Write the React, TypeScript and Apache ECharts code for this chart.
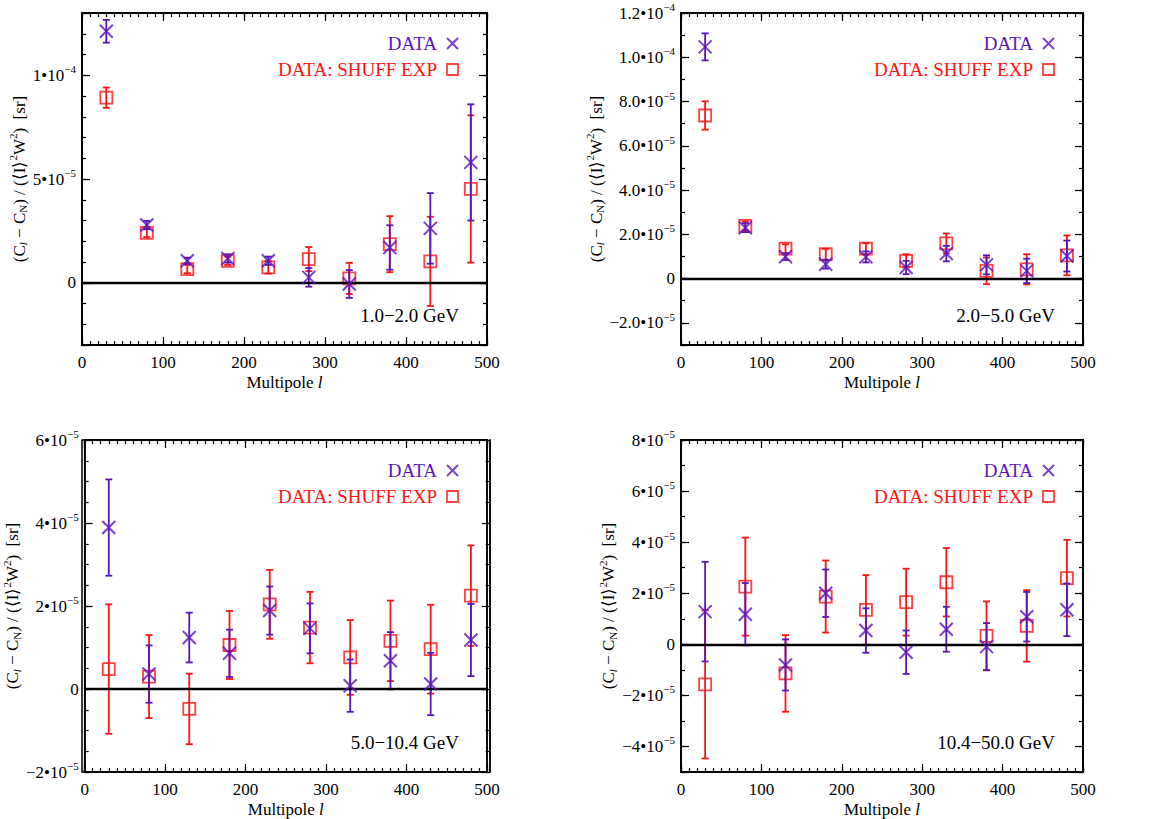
import React, { useEffect, useRef } from "react";
import * as echarts from "echarts";

// Multipole bin centres
const ELL = [30, 80, 130, 180, 230, 280, 330, 380, 430, 480];

// All y values below are in units of 1e-5 sr
// Panel 1: 1.0-2.0 GeV
const p1Data = [12.12, 2.78, 1.06, 1.17, 1.06, 0.26, -0.06, 1.7, 2.62, 5.8];
const p1DataErr = [0.55, 0.2, 0.15, 0.2, 0.2, 0.45, 0.67, 1.07, 1.7, 2.8];
const p1Shuff = [8.92, 2.4, 0.66, 1.06, 0.74, 1.14, 0.21, 1.86, 1.03, 4.52];
const p1ShuffErr = [0.49, 0.2, 0.2, 0.2, 0.3, 0.58, 0.75, 1.35, 2.15, 3.55];

// Panel 2: 2.0-5.0 GeV
const p2Data = [10.47, 2.3, 0.99, 0.65, 0.98, 0.5, 1.13, 0.62, 0.35, 1.02];
const p2DataErr = [0.61, 0.2, 0.15, 0.2, 0.25, 0.3, 0.35, 0.43, 0.55, 0.7];
const p2Shuff = [7.37, 2.38, 1.35, 1.1, 1.35, 0.8, 1.59, 0.35, 0.42, 1.05];
const p2ShuffErr = [0.64, 0.2, 0.2, 0.25, 0.25, 0.3, 0.45, 0.6, 0.68, 0.9];

// Panel 3: 5.0-10.4 GeV
const p3Data = [3.89, 0.36, 1.24, 0.86, 1.89, 1.46, 0.08, 0.68, 0.12, 1.18];
const p3DataErr = [1.16, 0.69, 0.6, 0.57, 0.58, 0.6, 0.63, 0.69, 0.75, 0.87];
const p3Shuff = [0.48, 0.3, -0.48, 1.06, 2.04, 1.48, 0.76, 1.16, 0.96, 2.25];
const p3ShuffErr = [1.56, 1.0, 0.85, 0.82, 0.83, 0.86, 0.9, 0.97, 1.07, 1.21];

// Panel 4: 10.4-50.0 GeV
const p4Data = [1.28, 1.18, -0.81, 2.0, 0.54, -0.31, 0.59, -0.09, 1.08, 1.35];
const p4DataErr = [1.95, 1.22, 1.0, 0.93, 0.87, 0.85, 0.88, 0.92, 0.97, 1.03];
const p4Shuff = [-1.57, 2.26, -1.14, 1.87, 1.35, 1.65, 2.43, 0.33, 0.72, 2.59];
const p4ShuffErr = [2.9, 1.92, 1.5, 1.41, 1.36, 1.31, 1.34, 1.35, 1.4, 1.5];

// Y tick values (units of 1e-5) and their labels ("mantissa^exponent")
const p1TickVals = [0, 5, 10];
const p1TickText = ["0", "5•10^−5", "1•10^−4"];
const p2TickVals = [-2, 0, 2, 4, 6, 8, 10, 12];
const p2TickText = ["−2.0•10^−5", "0", "2.0•10^−5", "4.0•10^−5", "6.0•10^−5", "8.0•10^−5", "1.0•10^−4", "1.2•10^−4"];
const p3TickVals = [-2, 0, 2, 4, 6];
const p3TickText = ["−2•10^−5", "0", "2•10^−5", "4•10^−5", "6•10^−5"];
const p4TickVals = [-4, -2, 0, 2, 4, 6, 8];
const p4TickText = ["−4•10^−5", "−2•10^−5", "0", "2•10^−5", "4•10^−5", "6•10^−5", "8•10^−5"];

const xTickVals = [0, 100, 200, 300, 400, 500];
const energyLabels = ["1.0−2.0 GeV", "2.0−5.0 GeV", "5.0−10.4 GeV", "10.4−50.0 GeV"];
const seriesNames = ["DATA", "DATA: SHUFF EXP"];

const PURPLE = "#5a14bc";
const RED = "#ff1212";
const FONT = "Liberation Serif";
const X_PATH = "path://M0,0L10,10M10,0L0,10";
const W = 1163;
const H = 819;

const panels = [
  { data: p1Data, dErr: p1DataErr, shuff: p1Shuff, sErr: p1ShuffErr, min: -3, max: 13, split: 3, minorStep: 1, tv: p1TickVals, tt: p1TickText,
    grid: { left: 82, top: 13, width: 405, height: 332 }, nameGap: 50 },
  { data: p2Data, dErr: p2DataErr, shuff: p2Shuff, sErr: p2ShuffErr, min: -3, max: 12, split: 7, minorStep: 1, tv: p2TickVals, tt: p2TickText,
    grid: { left: 681, top: 13, width: 402, height: 332 }, nameGap: 69 },
  { data: p3Data, dErr: p3DataErr, shuff: p3Shuff, sErr: p3ShuffErr, min: -2, max: 6, split: 4, minorStep: 0.5, tv: p3TickVals, tt: p3TickText,
    grid: { left: 82, top: 440, width: 405, height: 332 }, nameGap: 56 },
  { data: p4Data, dErr: p4DataErr, shuff: p4Shuff, sErr: p4ShuffErr, min: -5, max: 8, split: 6, minorStep: 1, tv: p4TickVals, tt: p4TickText,
    grid: { left: 681, top: 440, width: 402, height: 332 }, nameGap: 57 },
];

function tickFormatter(vals: number[], texts: string[]) {
  return (v: number) => {
    const i = vals.findIndex((t) => Math.abs(t - v) < 1e-9);
    if (i < 0) return "";
    const t = texts[i];
    const k = t.indexOf("^");
    if (k < 0) return "{m|" + t + "}";
    return "{m|" + t.slice(0, k) + "}{s|" + t.slice(k + 1) + "}";
  };
}

const errRender = (color: string) => (params: any, api: any) => {
  const x = api.value(0);
  const lo = api.coord([x, api.value(1)]);
  const hi = api.coord([x, api.value(2)]);
  const cw = 3.5;
  const style = { stroke: color, lineWidth: 1.8 };
  return {
    type: "group",
    children: [
      { type: "line", shape: { x1: lo[0], y1: lo[1], x2: hi[0], y2: hi[1] }, style },
      { type: "line", shape: { x1: lo[0] - cw, y1: lo[1], x2: lo[0] + cw, y2: lo[1] }, style },
      { type: "line", shape: { x1: hi[0] - cw, y1: hi[1], x2: hi[0] + cw, y2: hi[1] }, style },
    ],
  };
};

function buildOption() {
  const grid: any[] = [];
  const xAxis: any[] = [];
  const yAxis: any[] = [];
  const series: any[] = [];
  const legend: any[] = [];
  const graphic: any[] = [];

  const mkLine = () => ({ show: true, onZero: false, lineStyle: { color: "#000", width: 1.5 } });
  const mkTick = (len: number, inside: boolean) => ({ show: true, inside, length: len, lineStyle: { color: "#000", width: 1.2 } });
  const noSplit = { show: false };

  panels.forEach((p, i) => {
    grid.push({ ...p.grid, show: true, borderColor: "#000", borderWidth: 1.5, backgroundColor: "transparent" });
    const gh = p.grid.height;
    const gw = p.grid.width;

    // x axes: all placed at "bottom"; the mirrored ones are shifted to the top edge with a negative offset
    const xPlain = (interval: number, len: number, offset: number) => ({
      type: "value", gridIndex: i, min: 0, max: 500, interval, position: "bottom", offset,
      axisLine: mkLine(), axisTick: mkTick(len, offset === 0), splitLine: noSplit, axisLabel: { show: false },
    });
    xAxis.push({
      ...xPlain(100, 8, 0),
      axisLabel: {
        show: true, margin: 9, color: "#000", fontFamily: FONT, fontSize: 17,
        formatter: (v: number) => (xTickVals.includes(v) ? String(v) : ""),
      },
      name: "Multipole {it|l}", nameLocation: "middle", nameGap: 29,
      nameTextStyle: {
        color: "#000", fontFamily: FONT, fontSize: 17,
        rich: { it: { fontFamily: FONT, fontSize: 17, fontStyle: "italic", color: "#000" } },
      },
    });
    xAxis.push(xPlain(10, 4, 0)); // minor ticks (bottom)
    xAxis.push(xPlain(100, 8, -gh)); // mirrored major ticks (top edge)
    xAxis.push(xPlain(10, 4, -gh)); // mirrored minor ticks (top edge)

    // y axes: all placed at "left"; the mirrored ones are shifted to the right edge with a negative offset
    const yPlain = (len: number, offset: number, step?: number) => ({
      type: "value", gridIndex: i, min: p.min, max: p.max, position: "left", offset,
      ...(step ? { interval: step } : { splitNumber: p.split }),
      axisLine: mkLine(), axisTick: mkTick(len, offset === 0), splitLine: noSplit, axisLabel: { show: false },
    });
    yAxis.push({
      ...yPlain(8, 0),
      axisLabel: {
        show: true, margin: 6, color: "#000", fontFamily: FONT,
        formatter: tickFormatter(p.tv, p.tt),
        rich: {
          m: { fontFamily: FONT, fontSize: 17, color: "#000" },
          s: { fontFamily: FONT, fontSize: 11, color: "#000", padding: [0, 0, 12, 0] },
        },
      },
      name: "{n|(C}{sub|l}{n| − C}{subn|N}{n|) / (⟨I⟩}{sup|2}{n|W}{sup|2}{n|)  [sr]}",
      nameLocation: "middle", nameRotate: 90, nameGap: p.nameGap,
      nameTextStyle: {
        color: "#000", fontFamily: FONT, fontSize: 17,
        rich: {
          n: { fontFamily: FONT, fontSize: 17, color: "#000" },
          sub: { fontFamily: FONT, fontSize: 11, fontStyle: "italic", color: "#000", padding: [8, 0, 0, 0] },
          subn: { fontFamily: FONT, fontSize: 11, color: "#000", padding: [8, 0, 0, 0] },
          sup: { fontFamily: FONT, fontSize: 11, color: "#000", padding: [0, 0, 12, 0] },
        },
      },
    });
    yAxis.push(yPlain(4, 0, p.minorStep)); // minor ticks (left)
    yAxis.push(yPlain(8, -gw)); // mirrored major ticks (right edge)
    yAxis.push(yPlain(4, -gw, p.minorStep)); // mirrored minor ticks (right edge)

    const xi = 4 * i;
    const yi = 4 * i;
    series.push({
      type: "custom", name: "shuff-err", xAxisIndex: xi, yAxisIndex: yi, silent: true,
      encode: { x: 0, y: [1, 2] },
      data: ELL.map((x, j) => [x, p.shuff[j] - p.sErr[j], p.shuff[j] + p.sErr[j]]),
      renderItem: errRender(RED),
      markLine: {
        silent: true, symbol: ["none", "none"], label: { show: false },
        lineStyle: { color: "#000", width: 2.4, type: "solid" },
        data: [{ yAxis: 0 }],
      },
      z: 2,
    });
    series.push({
      type: "scatter", name: seriesNames[1], xAxisIndex: xi, yAxisIndex: yi,
      symbol: "rect", symbolSize: 12,
      itemStyle: { color: "transparent", borderColor: RED, borderWidth: 1.8 },
      data: ELL.map((x, j) => [x, p.shuff[j]]), z: 3,
    });
    series.push({
      type: "custom", name: "data-err", xAxisIndex: xi, yAxisIndex: yi, silent: true,
      encode: { x: 0, y: [1, 2] },
      data: ELL.map((x, j) => [x, p.data[j] - p.dErr[j], p.data[j] + p.dErr[j]]),
      renderItem: errRender(PURPLE), z: 4,
    });
    series.push({
      type: "scatter", name: seriesNames[0], xAxisIndex: xi, yAxisIndex: yi,
      symbol: X_PATH, symbolSize: 13,
      itemStyle: { color: "transparent", borderColor: PURPLE, borderWidth: 2 },
      data: ELL.map((x, j) => [x, p.data[j]]), z: 5,
    });

    const gx = p.grid.left + gw;
    legend.push({
      right: W - (gx - 28), top: p.grid.top + 21, orient: "vertical", align: "right",
      padding: 0, itemGap: 7, itemWidth: 11, itemHeight: 11, selectedMode: false,
      textStyle: { fontFamily: FONT, fontSize: 19, padding: [0, 5, 0, 0] },
      data: [
        { name: seriesNames[0], icon: X_PATH, textStyle: { color: PURPLE },
          itemStyle: { color: "transparent", borderColor: PURPLE, borderWidth: 2 } },
        { name: seriesNames[1], icon: "rect", textStyle: { color: RED },
          itemStyle: { color: "transparent", borderColor: RED, borderWidth: 1.8 } },
      ],
    });

    // plot frame (decoration)
    graphic.push({
      type: "rect", z: 50, silent: true,
      shape: { x: p.grid.left, y: p.grid.top, width: gw, height: gh },
      style: { fill: "none", stroke: "#000", lineWidth: 1.5 },
    });
    graphic.push({
      type: "text", x: gx - 28, y: p.grid.top + 302,
      style: { text: energyLabels[i], fill: "#000", font: `19px "${FONT}"`, align: "right", verticalAlign: "middle" },
    });
  });

  return { animation: false, backgroundColor: "#fff", grid, xAxis, yAxis, series, legend, graphic };
}

export default function App() {
  const ref = useRef<HTMLDivElement>(null);
  useEffect(() => {
    document.body.style.margin = "0";
    if (!ref.current) return;
    const chart = echarts.init(ref.current, undefined, { renderer: "svg" });
    chart.setOption(buildOption());
    return () => chart.dispose();
  }, []);
  return <div ref={ref} style={{ width: W, height: H }} />;
}
